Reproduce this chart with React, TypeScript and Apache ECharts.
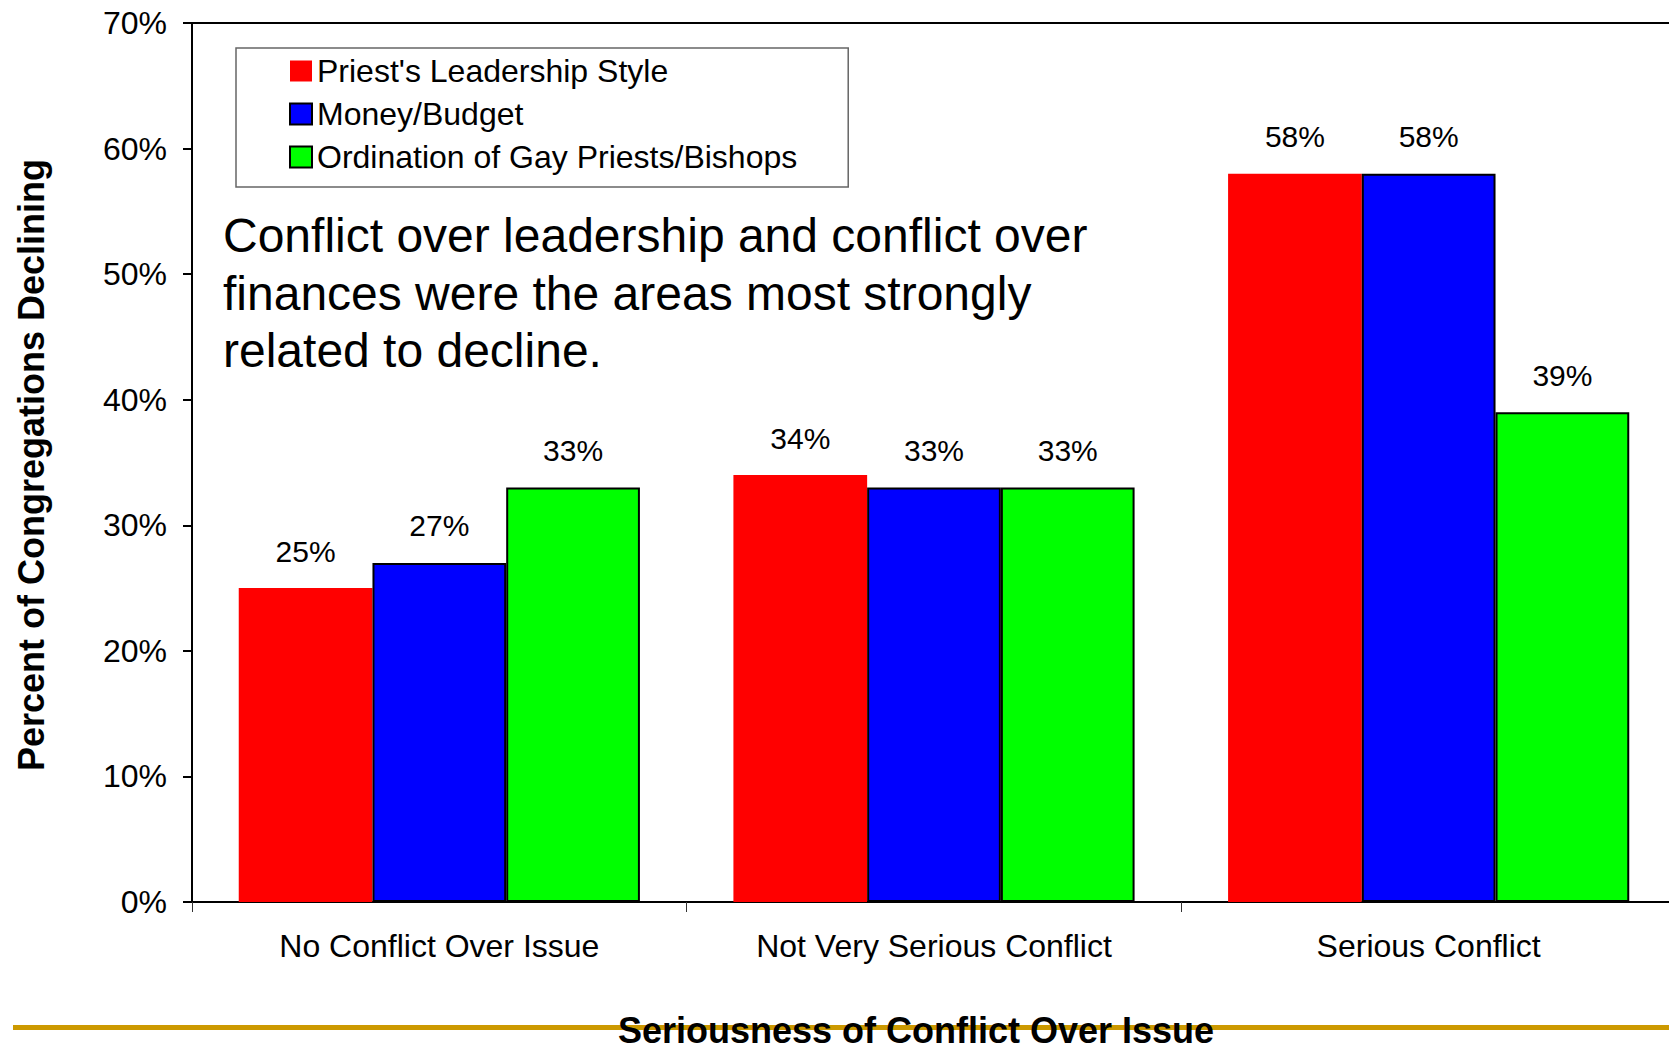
import React, { useEffect, useRef } from "react";
import * as echarts from "echarts";

const categories = ["No Conflict Over Issue", "Not Very Serious Conflict", "Serious Conflict"];
const seriesNames = ["Priest's Leadership Style", "Money/Budget", "Ordination of Gay Priests/Bishops"];
const leadershipValues = [25, 34, 58];
const moneyValues = [27, 33, 58];
const ordinationValues = [33, 33, 39];
const yMin = 0;
const yMax = 70;
const yInterval = 10;
const annotationLines = [
  "Conflict over leadership and conflict over",
  "finances were the areas most strongly",
  "related to decline.",
];
const yTitle = "Percent of Congregations Declining";
const xTitle = "Seriousness of Conflict Over Issue";

const FONT = "'Liberation Sans', Arial, Helvetica, sans-serif";

export default function App() {
  const ref = useRef<HTMLDivElement>(null);

  useEffect(() => {
    if (!ref.current) return;
    const chart = echarts.init(ref.current, null, { renderer: "svg", width: 1669, height: 1050 });

    const barLabel = {
      show: true,
      position: "top",
      distance: 22,
      fontSize: 30,
      color: "#000",
      fontFamily: FONT,
      formatter: "{c}%",
    };

    chart.setOption({
      animation: false,
      backgroundColor: "#fff",
      textStyle: { fontFamily: FONT, color: "#000" },
      grid: {
        left: 192,
        right: -7,
        top: 23,
        bottom: 148,
        containLabel: false,
        outerBoundsMode: "none",
      },
      legend: {
        show: true,
        orient: "vertical",
        left: 236,
        top: 48,
        padding: [7, 51, 14, 53],
        itemWidth: 22,
        itemHeight: 21,
        itemGap: 11,
        icon: "rect",
        selectedMode: false,
        borderColor: "#666",
        borderWidth: 1.5,
        backgroundColor: "#fff",
        textStyle: { fontSize: 32, color: "#000", fontFamily: FONT },
        data: seriesNames,
      },
      xAxis: [
        {
          type: "category",
          data: categories,
          position: "bottom",
          axisLine: { show: true, lineStyle: { color: "#000", width: 2 } },
          axisTick: { show: true, length: 10, lineStyle: { color: "#333", width: 1 } },
          axisLabel: { fontSize: 32, color: "#000", margin: 28, fontFamily: FONT },
          splitLine: { show: false },
        },
        {
          type: "category",
          data: categories,
          position: "top",
          axisLine: { show: true, lineStyle: { color: "#000", width: 2 } },
          axisTick: { show: false },
          axisLabel: { show: false },
          splitLine: { show: false },
        },
      ],
      yAxis: {
        type: "value",
        min: yMin,
        max: yMax,
        interval: yInterval,
        axisLine: { show: true, lineStyle: { color: "#000", width: 2 } },
        axisTick: { show: true, length: 9, lineStyle: { color: "#000", width: 2 } },
        axisLabel: { fontSize: 32, color: "#000", margin: 25, formatter: "{value}%", fontFamily: FONT },
        splitLine: { show: false },
      },
      series: [
        {
          name: seriesNames[0],
          type: "bar",
          data: leadershipValues,
          barGap: "0%",
          barCategoryGap: "18.9%",
          itemStyle: { color: "#FF0000", borderWidth: 0 },
          label: barLabel,
        },
        {
          name: seriesNames[1],
          type: "bar",
          data: moneyValues,
          barGap: "0%",
          barCategoryGap: "18.9%",
          itemStyle: { color: "#0000FF", borderColor: "#000", borderWidth: 2 },
          label: barLabel,
        },
        {
          name: seriesNames[2],
          type: "bar",
          data: ordinationValues,
          barGap: "0%",
          barCategoryGap: "18.9%",
          itemStyle: { color: "#00FF00", borderColor: "#000", borderWidth: 2 },
          label: barLabel,
        },
      ],
      graphic: [
        {
          type: "text",
          left: 223,
          top: 207,
          z: 10,
          style: {
            text: annotationLines.join("\n"),
            fontSize: 48,
            lineHeight: 57.5,
            fill: "#000",
            fontFamily: FONT,
          },
        },
        {
          type: "text",
          x: 31,
          y: 465,
          rotation: Math.PI / 2,
          z: 10,
          style: {
            text: yTitle,
            fontSize: 36,
            fontWeight: "bold",
            fill: "#000",
            fontFamily: FONT,
            align: "center",
            verticalAlign: "middle",
          },
        },
        {
          type: "rect",
          z: 5,
          shape: { x: 13, y: 1025, width: 1656, height: 5 },
          style: { fill: "#CC9900" },
        },
        {
          type: "text",
          x: 916,
          y: 1030,
          z: 10,
          style: {
            text: xTitle,
            fontSize: 36,
            fontWeight: "bold",
            fill: "#000",
            fontFamily: FONT,
            align: "center",
            verticalAlign: "middle",
          },
        },
      ],
    });

    return () => chart.dispose();
  }, []);

  return (
    <div
      ref={ref}
      style={{ position: "absolute", left: 0, top: 0, width: 1669, height: 1050 }}
    />
  );
}
